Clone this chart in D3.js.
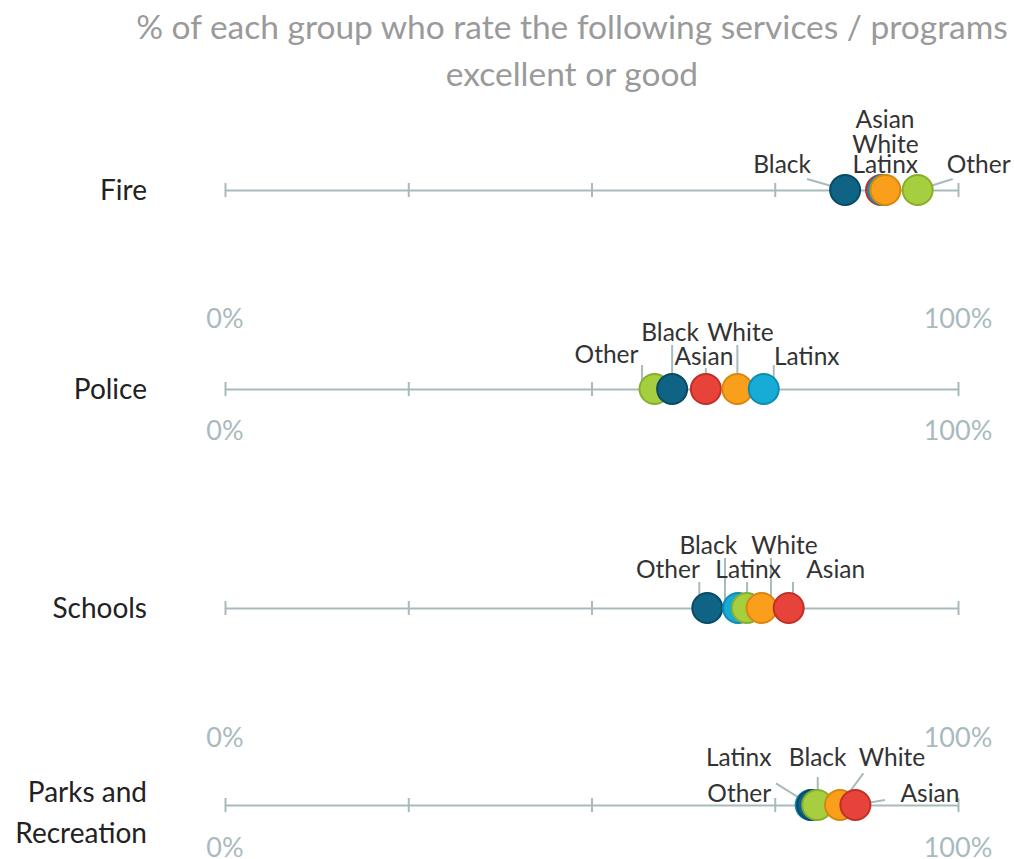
<!DOCTYPE html>
<html>
<head>
<meta charset="utf-8">
<script src="https://cdn.jsdelivr.net/npm/d3@7"></script>
<style>
  body { margin: 0; background: #fff; }
  svg { display: block; font-family: Lato, "Open Sans", sans-serif; }
</style>
</head>
<body>
<div id="chart"></div>
<script>
// ---- data ------------------------------------------------------------
var services = ["Fire", "Police", "Schools", "Parks and Recreation"];
var groups = ["Black", "Latinx", "White", "Asian", "Other"];
// % rating excellent or good, in the order of `groups`
var fireValues = [84.6, 89.8, 90.1, 89.5, 94.5];
var policeValues = [61.0, 73.5, 69.9, 65.6, 58.6];
var schoolsValues = [65.8, 70.0, 73.2, 76.9, 71.2];
var parksValues = [80.1, 79.9, 83.9, 86.0, 80.8];
var tickValues = [0, 25, 50, 75, 100];
var endLabels = ["0%", "100%"];
var titleLines = ["% of each group who rate the following services / programs", "excellent or good"];

var allValues = [fireValues, policeValues, schoolsValues, parksValues];

// ---- layout ----------------------------------------------------------
var W = 1014, H = 859;
var rowY = [190, 389, 608, 805];
var endLabelOffset = [138, 51, 139, 52];
var r = 15;

var colors = { Black: "#0f6384", Latinx: "#17acd6", White: "#f99f1c", Asian: "#e8433b", Other: "#a5cf3f" };
var strokes = { Black: "#0a4a64", Latinx: "#0b8db4", White: "#d9870a", Asian: "#c02f28", Other: "#88ae2c" };
var gray = "#a9babd";

// label placement per row: group, text dx, text dy, leader [x1,y1,x2,y2] relative to the dot
var labelSpots = [
  [["Black", -63, -17, [-38, -11, 0, 0]], ["Asian", 4, -62, null], ["White", 0, -37, null],
   ["Latinx", 2, -17, null], ["Other", 61, -17, [35, -11, 0, 0]]],
  [["Other", -48, -26, [-12.5, -24, -12.5, 0]], ["Black", -2, -48, [0, -44, 0, 0]],
   ["Asian", -2, -24, [0, -21, 0, 0]], ["White", 3, -48, [0, -44, 0, 0]],
   ["Latinx", 43, -24, [10, -24, 10, 0]]],
  [["Other", -79, -30, [-47.6, -26, -47.6, 0]], ["Black", 1, -54, [17.7, -50, 17.7, 0]],
   ["Latinx", 10, -30, [9, -26, 9, 0]], ["White", 23, -54, [9.4, -50, 9.4, 0]],
   ["Asian", 47, -30, [4.3, -26, 4.3, 0]]],
  [["Latinx", -72, -39, [-34.7, -21.7, 0, 0]], ["Other", -78, -3, null],
   ["Black", 5.5, -39, [5.6, -28, 5.6, 0]], ["White", 52, -39, [23.3, -31.7, 0, 0]],
   ["Asian", 74.6, -3, [29.6, -5, 0, 0]]]
];

var svg = d3.select("#chart")
  .append("svg")
  .attr("width", W)
  .attr("height", H);

var x = d3.scaleLinear().domain([0, 100]).range([225, 958]);

// title
svg.selectAll(".title")
  .data(titleLines)
  .enter().append("text")
  .attr("x", 572)
  .attr("y", function (d, i) { return 39 + i * 47; })
  .attr("text-anchor", "middle")
  .attr("font-size", 33.5)
  .attr("fill", "#9a9a9a")
  .text(function (d) { return d; });

services.forEach(function (service, i) {
  var g = svg.append("g").attr("transform", "translate(0," + rowY[i] + ")");

  // service name, right aligned
  var words = service === "Parks and Recreation" ? ["Parks and", "Recreation"] : [service];
  g.selectAll(".name")
    .data(words)
    .enter().append("text")
    .attr("x", 147)
    .attr("y", function (d, j) { return words.length > 1 ? -3 + j * 41 : 10; })
    .attr("text-anchor", "end")
    .attr("font-size", 28)
    .attr("fill", "#222")
    .text(function (d) { return d; });

  // axis line with ticks
  var ax = g.append("g")
    .call(d3.axisBottom(x).tickValues(tickValues).tickSize(7).tickSizeOuter(0).tickFormat(""));
  ax.select(".domain").attr("stroke", gray).attr("stroke-width", 2);
  ax.selectAll(".tick line").attr("stroke", gray).attr("stroke-width", 2).attr("y1", -7).attr("y2", 7);

  // 0% / 100%
  g.selectAll(".end")
    .data(endLabels)
    .enter().append("text")
    .attr("x", function (d, j) { return x(j === 0 ? 0 : 100); })
    .attr("y", endLabelOffset[i])
    .attr("text-anchor", "middle")
    .attr("font-size", 27)
    .attr("fill", gray)
    .text(function (d) { return d; });

  var vals = allValues[i];
  var dots = groups.map(function (gr, k) { return { group: gr, value: vals[k] }; });
  var byGroup = {};
  dots.forEach(function (d) { byGroup[d.group] = d; });

  // leader lines (under dots)
  var spots = labelSpots[i];
  g.selectAll(".leader")
    .data(spots.filter(function (s) { return s[3]; }))
    .enter().append("line")
    .attr("x1", function (s) { return x(byGroup[s[0]].value) + s[3][0]; })
    .attr("y1", function (s) { return s[3][1]; })
    .attr("x2", function (s) { return x(byGroup[s[0]].value) + s[3][2]; })
    .attr("y2", function (s) { return s[3][3]; })
    .attr("stroke", gray)
    .attr("stroke-width", 2);

  // dots, drawn in ascending order
  g.selectAll(".dot")
    .data(dots.slice().sort(function (a, b) { return a.value - b.value; }))
    .enter().append("circle")
    .attr("cx", function (d) { return x(d.value); })
    .attr("cy", 0)
    .attr("r", r)
    .attr("fill", function (d) { return colors[d.group]; })
    .attr("stroke", function (d) { return strokes[d.group]; })
    .attr("stroke-width", 2);

  // group labels
  g.selectAll(".lab")
    .data(spots)
    .enter().append("text")
    .attr("x", function (s) { return x(byGroup[s[0]].value) + s[1]; })
    .attr("y", function (s) { return s[2]; })
    .attr("text-anchor", "middle")
    .attr("font-size", 24.5)
    .attr("fill", "#333")
    .text(function (s) { return s[0]; })
});
</script>
</body>
</html>
